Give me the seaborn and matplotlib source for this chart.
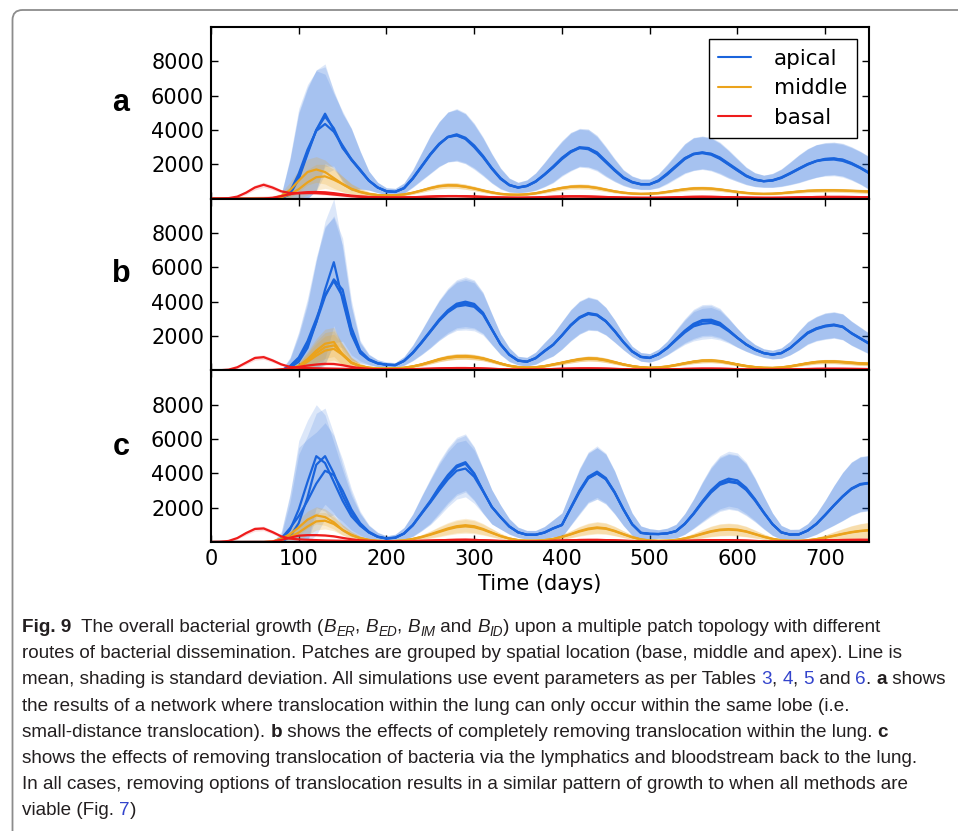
import numpy as np
import pandas as pd
import seaborn as sns
import matplotlib.pyplot as plt
from matplotlib.lines import Line2D
from matplotlib.patches import FancyBboxPatch
from matplotlib.text import Annotation

days = list(range(0, 751, 10))
regions = ["apical", "middle", "basal"]

# ---- panel a -------------------------------------------------------------
a_apical_1 = [
    0, 0, 0, 0, 0, 0, 0, 0, 20, 250,
    1150, 2600, 4000, 4950, 4000, 2950, 2300, 1700, 1050, 650,
    420, 390, 620, 1200, 1900, 2600, 3200, 3600, 3700, 3500,
    3050, 2450, 1750, 1150, 780, 640, 740, 1000, 1400, 1850,
    2350, 2750, 3000, 2950, 2650, 2150, 1650, 1200, 950, 830,
    830, 1050, 1450, 1900, 2350, 2620, 2700, 2600, 2350, 2000,
    1650, 1320, 1100, 1010, 1060, 1220, 1470, 1740, 2000, 2200,
    2320, 2350, 2250, 2050, 1800, 1500]
a_apical_2 = [
    0, 0, 0, 0, 0, 0, 0, 0, 30, 300,
    1250, 2700, 4000, 4780, 4100, 3000, 2250, 1650, 1050, 650,
    430, 400, 600, 1150, 1850, 2550, 3150, 3600, 3750, 3550,
    3100, 2500, 1800, 1200, 800, 650, 730, 980, 1380, 1820,
    2300, 2700, 2950, 2950, 2700, 2200, 1700, 1250, 980, 850,
    840, 1020, 1400, 1850, 2300, 2580, 2680, 2620, 2400, 2050,
    1700, 1350, 1120, 1020, 1050, 1200, 1450, 1720, 1980, 2180,
    2300, 2330, 2280, 2080, 1820, 1520]
a_apical_3 = [
    0, 0, 0, 0, 0, 0, 0, 0, 40, 400,
    1450, 2850, 3950, 4350, 3900, 3100, 2300, 1650, 1050, 650,
    440, 400, 620, 1180, 1880, 2580, 3180, 3580, 3680, 3480,
    3000, 2420, 1760, 1180, 800, 660, 750, 1010, 1420, 1880,
    2380, 2760, 2950, 2880, 2600, 2120, 1640, 1220, 960, 840,
    850, 1060, 1470, 1920, 2360, 2600, 2650, 2560, 2320, 1980,
    1640, 1310, 1100, 1020, 1080, 1240, 1490, 1760, 2020, 2200,
    2260, 2280, 2200, 2020, 1780, 1480]
a_apical_sd = [
    0, 0, 0, 0, 0, 0, 0, 0, 200, 2000,
    3800, 3800, 3500, 2900, 2200, 2000, 1800, 1100, 550, 300,
    200, 200, 300, 500, 800, 1100, 1300, 1450, 1500, 1450,
    1300, 1100, 850, 600, 400, 300, 350, 500, 700, 900,
    1000, 1100, 1100, 1100, 1000, 850, 650, 450, 350, 300,
    300, 400, 550, 700, 850, 950, 950, 950, 900, 800,
    650, 500, 400, 350, 400, 500, 650, 800, 900, 950,
    950, 950, 950, 950, 950, 950]
a_middle_1 = [
    0, 0, 0, 0, 0, 0, 0, 20, 150, 500,
    1050, 1550, 1700, 1550, 1200, 850, 550, 380, 270, 210,
    190, 200, 250, 350, 480, 620, 730, 780, 770, 700,
    600, 480, 370, 280, 240, 230, 260, 320, 420, 530,
    630, 700, 720, 700, 630, 530, 430, 350, 300, 280,
    290, 330, 400, 480, 550, 600, 610, 590, 540, 470,
    400, 340, 300, 280, 290, 320, 370, 420, 460, 480,
    490, 490, 480, 460, 440, 420]
a_middle_2 = [
    0, 0, 0, 0, 0, 0, 0, 0, 80, 250,
    550, 950, 1250, 1300, 1100, 850, 580, 400, 280, 210,
    190, 200, 240, 340, 470, 610, 720, 770, 760, 690,
    590, 470, 360, 280, 240, 230, 250, 310, 410, 520,
    620, 690, 710, 690, 620, 520, 420, 350, 300, 280,
    290, 320, 390, 470, 540, 590, 600, 580, 530, 460,
    390, 330, 290, 280, 290, 320, 360, 410, 450, 470,
    480, 480, 470, 450, 430, 410]
a_middle_sd = [
    0, 0, 0, 0, 0, 0, 0, 20, 200, 450,
    650, 750, 750, 700, 600, 450, 300, 200, 120, 80,
    60, 60, 70, 90, 110, 130, 150, 160, 160, 150,
    130, 110, 90, 70, 60, 60, 60, 70, 90, 110,
    120, 130, 140, 140, 130, 110, 90, 70, 60, 60,
    60, 70, 80, 100, 110, 120, 120, 120, 110, 100,
    80, 70, 60, 60, 60, 70, 80, 90, 100, 110,
    110, 110, 110, 110, 110, 110]
a_basal_1 = [
    0, 5, 30, 120, 350, 650, 810, 650, 430, 330,
    320, 330, 320, 290, 240, 190, 140, 110, 90, 80,
    70, 70, 75, 85, 100, 120, 140, 150, 150, 140,
    125, 105, 85, 70, 60, 55, 60, 70, 90, 110,
    125, 135, 135, 125, 110, 95, 80, 65, 55, 50,
    50, 55, 65, 80, 95, 105, 110, 105, 95, 85,
    75, 65, 55, 50, 50, 55, 65, 75, 85, 95,
    100, 100, 100, 95, 90, 85]
a_basal_2 = [
    0, 0, 0, 0, 0, 0, 10, 50, 150, 260,
    340, 380, 390, 370, 320, 250, 180, 130, 100, 80,
    70, 70, 75, 85, 100, 120, 140, 150, 150, 140,
    125, 105, 85, 70, 60, 55, 60, 70, 90, 110,
    125, 135, 135, 125, 110, 95, 80, 65, 55, 50,
    50, 55, 65, 80, 95, 105, 110, 105, 95, 85,
    75, 65, 55, 50, 50, 55, 65, 75, 85, 95,
    100, 100, 100, 95, 90, 85]
a_basal_sd = [
    0, 5, 20, 60, 110, 140, 150, 130, 100, 80,
    80, 80, 80, 80, 70, 60, 50, 40, 35, 30,
    30, 30, 30, 30, 35, 40, 45, 50, 50, 50,
    45, 40, 35, 30, 30, 30, 30, 30, 35, 40,
    45, 45, 45, 45, 40, 35, 30, 30, 30, 30,
    30, 30, 30, 35, 40, 40, 40, 40, 35, 35,
    30, 30, 30, 30, 30, 30, 30, 35, 35, 40,
    40, 40, 40, 40, 40, 40]

# ---- panel b -------------------------------------------------------------
b_apical_1 = [
    0, 0, 0, 0, 0, 0, 0, 0, 0, 150,
    500, 1300, 2800, 4700, 6300, 4100, 2100, 1000, 600, 400,
    320, 300, 560, 1040, 1650, 2300, 2960, 3500, 3880, 4000,
    3870, 3360, 2400, 1500, 900, 560, 500, 710, 1130, 1500,
    2050, 2650, 3100, 3340, 3250, 2880, 2300, 1650, 1100, 780,
    720, 940, 1320, 1820, 2310, 2710, 2930, 2950, 2770, 2350,
    1900, 1500, 1200, 1000, 910, 1000, 1300, 1750, 2200, 2450,
    2600, 2670, 2550, 2150, 1850, 1550]
b_apical_2 = [
    0, 0, 0, 0, 0, 0, 0, 0, 0, 200,
    650, 1500, 2800, 4300, 5300, 4700, 2500, 1150, 650, 420,
    330, 300, 540, 1000, 1600, 2250, 2900, 3420, 3800, 3900,
    3800, 3320, 2420, 1530, 920, 570, 500, 700, 1100, 1480,
    2020, 2600, 3050, 3300, 3220, 2860, 2300, 1660, 1110, 790,
    730, 930, 1300, 1780, 2260, 2640, 2850, 2870, 2700, 2330,
    1900, 1520, 1220, 1010, 920, 1010, 1300, 1720, 2150, 2400,
    2550, 2620, 2520, 2180, 1880, 1580]
b_apical_3 = [
    0, 0, 0, 0, 0, 0, 0, 0, 0, 250,
    750, 1700, 3000, 4400, 5200, 4300, 2200, 1050, 620, 410,
    330, 310, 550, 1020, 1620, 2250, 2880, 3380, 3720, 3800,
    3700, 3250, 2380, 1520, 920, 570, 510, 720, 1120, 1490,
    2040, 2620, 3060, 3280, 3200, 2850, 2280, 1640, 1100, 780,
    720, 930, 1290, 1750, 2200, 2560, 2710, 2760, 2620, 2280,
    1880, 1500, 1200, 1000, 920, 1000, 1290, 1740, 2180, 2430,
    2580, 2640, 2540, 2160, 1860, 1560]
b_apical_sd = [
    0, 0, 0, 0, 0, 0, 0, 0, 0, 500,
    1500, 2500, 3600, 4000, 3700, 3000, 1600, 600, 300, 200,
    150, 150, 250, 450, 700, 950, 1150, 1300, 1400, 1450,
    1400, 1200, 900, 600, 400, 250, 250, 350, 500, 650,
    800, 900, 950, 950, 900, 800, 650, 450, 300, 250,
    250, 300, 400, 550, 700, 850, 900, 900, 850, 700,
    550, 400, 300, 250, 250, 300, 400, 550, 650, 700,
    750, 750, 750, 700, 650, 600]
b_middle_1 = [
    0, 0, 0, 0, 0, 0, 0, 0, 30, 100,
    250, 650, 1150, 1550, 1650, 900, 450, 250, 150, 110,
    100, 110, 150, 230, 350, 500, 650, 760, 820, 830,
    790, 700, 560, 400, 270, 190, 160, 180, 250, 350,
    450, 560, 650, 700, 680, 600, 480, 350, 250, 180,
    150, 170, 230, 320, 420, 510, 570, 580, 540, 450,
    350, 260, 190, 150, 140, 170, 240, 330, 420, 490,
    520, 520, 490, 450, 410, 390]
b_middle_2 = [
    0, 0, 0, 0, 0, 0, 0, 0, 20, 80,
    220, 580, 1000, 1350, 1450, 950, 450, 250, 150, 110,
    100, 110, 150, 230, 340, 480, 630, 740, 800, 810,
    770, 690, 550, 400, 270, 190, 160, 180, 240, 340,
    440, 550, 640, 690, 670, 590, 470, 350, 250, 180,
    150, 170, 220, 310, 410, 500, 560, 570, 530, 440,
    340, 250, 190, 150, 140, 170, 230, 320, 410, 480,
    510, 510, 480, 440, 400, 380]
b_middle_3 = [
    0, 0, 0, 0, 0, 0, 0, 0, 20, 60,
    180, 500, 850, 1150, 1250, 900, 430, 240, 150, 110,
    100, 110, 140, 220, 330, 470, 620, 730, 790, 800,
    760, 680, 540, 390, 260, 180, 150, 170, 230, 330,
    430, 540, 630, 680, 660, 580, 460, 340, 240, 170,
    140, 160, 210, 300, 400, 490, 550, 560, 520, 430,
    330, 240, 180, 140, 130, 160, 220, 310, 400, 470,
    500, 500, 470, 430, 390, 370]
b_middle_sd = [
    0, 0, 0, 0, 0, 0, 0, 0, 20, 60,
    200, 450, 700, 850, 850, 600, 300, 150, 80, 50,
    40, 40, 50, 70, 90, 110, 130, 150, 160, 160,
    150, 130, 110, 90, 60, 50, 40, 50, 60, 80,
    100, 120, 130, 140, 140, 130, 110, 80, 60, 50,
    40, 40, 50, 70, 90, 110, 120, 120, 110, 100,
    80, 60, 50, 40, 40, 50, 60, 80, 100, 110,
    120, 120, 120, 110, 110, 110]
b_basal_1 = [
    0, 5, 40, 180, 450, 720, 770, 580, 350, 200,
    150, 130, 120, 110, 100, 90, 80, 70, 60, 55,
    50, 50, 55, 65, 80, 95, 110, 125, 135, 135,
    125, 110, 90, 70, 55, 45, 45, 50, 60, 75,
    90, 100, 110, 115, 110, 100, 85, 70, 55, 45,
    40, 45, 55, 65, 80, 90, 100, 100, 95, 85,
    70, 55, 45, 40, 40, 45, 55, 65, 75, 85,
    90, 90, 90, 85, 80, 75]
b_basal_2 = [
    0, 0, 0, 0, 0, 0, 5, 20, 60, 120,
    200, 280, 340, 380, 370, 300, 200, 130, 90, 70,
    55, 50, 55, 65, 80, 95, 110, 120, 130, 130,
    120, 105, 85, 65, 50, 45, 45, 50, 60, 75,
    90, 100, 110, 110, 105, 95, 80, 65, 50, 45,
    40, 45, 55, 65, 80, 90, 95, 95, 90, 80,
    65, 55, 45, 40, 40, 45, 55, 65, 75, 85,
    90, 90, 85, 80, 75, 70]
b_basal_sd = [
    0, 5, 20, 60, 110, 130, 130, 110, 80, 60,
    60, 60, 70, 70, 70, 60, 50, 40, 30, 30,
    30, 30, 30, 30, 35, 40, 45, 50, 50, 50,
    45, 40, 35, 30, 30, 30, 30, 30, 35, 40,
    40, 40, 45, 45, 40, 35, 30, 30, 30, 30,
    30, 30, 30, 35, 35, 40, 40, 40, 35, 35,
    30, 30, 30, 30, 30, 30, 30, 35, 35, 40,
    40, 40, 40, 40, 40, 40]

# ---- panel c -------------------------------------------------------------
c_apical_1 = [
    0, 0, 0, 0, 0, 0, 0, 0, 100, 700,
    1900, 3500, 5000, 4600, 3500, 2400, 1500, 950, 550, 300,
    200, 250, 500, 1000, 1700, 2400, 3200, 3900, 4450, 4650,
    4000, 3000, 2050, 1450, 900, 560, 420, 420, 550, 800,
    1000, 2000, 3000, 3800, 4100, 3730, 2920, 1910, 1030, 530,
    470, 460, 500, 630, 1060, 1670, 2370, 3010, 3480, 3690,
    3590, 3160, 2500, 1740, 1040, 560, 430, 440, 665, 1050,
    1580, 2140, 2670, 3120, 3380, 3450]
c_apical_2 = [
    0, 0, 0, 0, 0, 0, 0, 0, 0, 300,
    1100, 2600, 4500, 5000, 4000, 2700, 1700, 1000, 560, 300,
    200, 240, 480, 960, 1650, 2350, 3100, 3800, 4350, 4560,
    3950, 2980, 2050, 1450, 900, 560, 420, 420, 540, 780,
    980, 1950, 2900, 3700, 3990, 3650, 2870, 1900, 1030, 530,
    470, 460, 500, 620, 1040, 1620, 2280, 2880, 3330, 3500,
    3420, 3030, 2420, 1700, 1030, 560, 430, 440, 660, 1040,
    1560, 2120, 2640, 3080, 3340, 3420]
c_apical_3 = [
    0, 0, 0, 0, 0, 0, 0, 0, 200, 800,
    1500, 2400, 3400, 4150, 3900, 3000, 1900, 1100, 600, 320,
    210, 260, 500, 980, 1650, 2300, 3000, 3650, 4150, 4280,
    3800, 2950, 2050, 1450, 920, 570, 430, 430, 560, 800,
    1000, 1980, 2950, 3750, 4000, 3680, 2900, 1920, 1050, 540,
    480, 470, 510, 640, 1060, 1650, 2330, 2950, 3400, 3560,
    3460, 3080, 2450, 1720, 1040, 570, 440, 450, 670, 1060,
    1580, 2130, 2650, 3100, 3360, 3430]
c_apical_sd = [
    0, 0, 0, 0, 0, 0, 0, 0, 400, 2000,
    4000, 3600, 3000, 2800, 2300, 1800, 1200, 700, 400, 250,
    150, 200, 350, 650, 1000, 1300, 1500, 1600, 1650, 1650,
    1550, 1300, 1000, 700, 450, 300, 250, 250, 350, 500,
    700, 1000, 1300, 1450, 1500, 1450, 1250, 950, 650, 400,
    300, 250, 300, 400, 600, 850, 1150, 1400, 1550, 1600,
    1600, 1500, 1250, 950, 650, 400, 300, 300, 400, 600,
    850, 1150, 1400, 1550, 1600, 1600]
c_middle_1 = [
    0, 0, 0, 0, 0, 0, 0, 30, 200, 450,
    850, 1300, 1550, 1450, 1150, 700, 400, 220, 120, 70,
    50, 60, 100, 180, 300, 450, 620, 790, 920, 980,
    920, 760, 550, 350, 200, 110, 80, 80, 110, 180,
    300, 460, 640, 780, 850, 800, 650, 460, 280, 150,
    90, 70, 80, 120, 210, 340, 490, 630, 720, 750,
    720, 620, 470, 310, 180, 100, 70, 70, 100, 170,
    260, 370, 480, 580, 650, 700]
c_middle_2 = [
    0, 0, 0, 0, 0, 0, 0, 10, 100, 300,
    550, 900, 1200, 1240, 1050, 700, 420, 230, 120, 70,
    50, 60, 90, 170, 280, 420, 580, 740, 860, 910,
    860, 720, 530, 340, 200, 110, 80, 80, 110, 170,
    290, 440, 610, 740, 810, 770, 630, 450, 280, 150,
    90, 70, 80, 120, 200, 320, 460, 600, 690, 720,
    690, 600, 450, 300, 180, 100, 70, 70, 100, 160,
    250, 350, 460, 560, 630, 680]
c_middle_sd = [
    0, 0, 0, 0, 0, 0, 0, 30, 150, 300,
    450, 500, 500, 480, 400, 300, 200, 120, 70, 40,
    30, 30, 50, 80, 130, 200, 280, 340, 380, 400,
    380, 320, 240, 160, 100, 60, 40, 40, 60, 90,
    140, 200, 270, 320, 340, 320, 270, 200, 130, 80,
    50, 40, 50, 70, 110, 170, 240, 300, 340, 350,
    340, 300, 230, 160, 100, 60, 40, 40, 60, 100,
    160, 230, 300, 370, 420, 450]
c_basal_1 = [
    0, 10, 60, 230, 520, 760, 790, 580, 330, 200,
    150, 130, 110, 90, 80, 70, 60, 50, 45, 40,
    35, 35, 40, 50, 65, 80, 100, 115, 125, 130,
    120, 100, 80, 60, 45, 35, 35, 40, 50, 65,
    85, 100, 115, 120, 120, 110, 95, 75, 55, 45,
    35, 35, 40, 50, 65, 80, 95, 105, 110, 105,
    95, 80, 60, 45, 35, 35, 40, 50, 65, 80,
    95, 105, 115, 120, 125, 125]
c_basal_2 = [
    0, 0, 0, 0, 0, 0, 0, 30, 120, 250,
    370, 400, 400, 380, 330, 240, 160, 100, 70, 50,
    40, 40, 45, 55, 70, 85, 100, 115, 125, 130,
    120, 100, 80, 60, 45, 35, 35, 40, 50, 65,
    85, 100, 115, 120, 120, 110, 95, 75, 55, 45,
    35, 35, 40, 50, 65, 80, 95, 105, 110, 105,
    95, 80, 60, 45, 35, 35, 40, 50, 65, 80,
    95, 105, 115, 120, 125, 125]
c_basal_sd = [
    0, 5, 20, 60, 110, 130, 130, 110, 80, 60,
    60, 60, 60, 60, 50, 40, 30, 30, 30, 30,
    30, 30, 30, 30, 30, 35, 40, 45, 45, 45,
    45, 40, 35, 30, 30, 30, 30, 30, 30, 35,
    40, 40, 45, 45, 45, 40, 35, 30, 30, 30,
    30, 30, 30, 30, 35, 35, 40, 40, 40, 40,
    35, 35, 30, 30, 30, 30, 30, 30, 35, 35,
    40, 40, 40, 45, 45, 45]

caption_lines = [
    [("Fig. 9", "bold"), ("  The overall bacterial growth (", "plain"),
     ("B", "ital"), ("ER", "sub"), (", ", "plain"), ("B", "ital"), ("ED", "sub"),
     (", ", "plain"), ("B", "ital"), ("IM", "sub"), (" and ", "plain"),
     ("B", "ital"), ("ID", "sub"),
     (") upon a multiple patch topology with different", "plain")],
    [("routes of bacterial dissemination. Patches are grouped by spatial location "
      "(base, middle and apex). Line is", "plain")],
    [("mean, shading is standard deviation. All simulations use event parameters "
      "as per Tables ", "plain"), ("3", "link"), (", ", "plain"), ("4", "link"),
     (", ", "plain"), ("5", "link"), (" and ", "plain"), ("6", "link"),
     (". ", "plain"), ("a", "bold"), (" shows", "plain")],
    [("the results of a network where translocation within the lung can only occur "
      "within the same lobe (i.e.", "plain")],
    [("small-distance translocation). ", "plain"), ("b", "bold"),
     (" shows the effects of completely removing translocation within the lung. ", "plain"),
     ("c", "bold")],
    [("shows the effects of removing translocation of bacteria via the lymphatics "
      "and bloodstream back to the lung.", "plain")],
    [("In all cases, removing options of translocation results in a similar pattern "
      "of growth to when all methods are", "plain")],
    [("viable (Fig. ", "plain"), ("7", "link"), (")", "plain")],
]

panel_data = {
    "a": {"apical": ([a_apical_1, a_apical_2, a_apical_3], a_apical_sd),
          "middle": ([a_middle_1, a_middle_2], a_middle_sd),
          "basal": ([a_basal_1, a_basal_2], a_basal_sd)},
    "b": {"apical": ([b_apical_1, b_apical_2, b_apical_3], b_apical_sd),
          "middle": ([b_middle_1, b_middle_2, b_middle_3], b_middle_sd),
          "basal": ([b_basal_1, b_basal_2], b_basal_sd)},
    "c": {"apical": ([c_apical_1, c_apical_2, c_apical_3], c_apical_sd),
          "middle": ([c_middle_1, c_middle_2], c_middle_sd),
          "basal": ([c_basal_1, c_basal_2], c_basal_sd)},
}

colors = {"apical": "#1a64dc", "middle": "#eba31c", "basal": "#ee1c1c"}
band_alpha = {"apical": 0.15, "middle": 0.2, "basal": 0.15}


def long_table(panel):
    rows = []
    for region in regions:
        runs, _ = panel_data[panel][region]
        for i, run in enumerate(runs):
            for d, v in zip(days, run):
                rows.append((d, v, region, region + str(i)))
    return pd.DataFrame(rows, columns=["day", "count", "region", "run"])


sns.set_style("ticks")
plt.rcParams["font.family"] = ["DejaVu Sans"]
plt.rcParams["text.color"] = "black"
plt.rcParams["axes.labelcolor"] = "black"

W, H = 958, 831
fig, axes = plt.subplots(3, 1, figsize=(W / 100, H / 100), dpi=100, sharex=True)
fig.subplots_adjust(left=211 / W, right=869 / W, top=1 - 27 / H,
                    bottom=1 - 542 / H, hspace=0)

for ax, key in zip(axes, "abc"):
    for region in regions:
        runs, sd = panel_data[key][region]
        s = np.array(sd, dtype=float)
        for run in runs:
            m = np.array(run, dtype=float)
            ax.fill_between(days, np.clip(m - s, 0, None), m + s,
                            color=colors[region], alpha=band_alpha[region], lw=0)
    sns.lineplot(data=long_table(key), x="day", y="count", hue="region",
                 units="run", estimator=None, hue_order=regions, palette=colors,
                 linewidth=1.6, legend=False, ax=ax)
    ax.set_xlim(0, 750)
    ax.set_ylim(0, 10000)
    ax.set_xticks(range(0, 701, 100))
    ax.set_yticks([2000, 4000, 6000, 8000])
    ax.set_xlabel("")
    ax.set_ylabel("")
    ax.tick_params(direction="in", top=True, right=True, length=5, width=1,
                   labelsize=15, pad=5, colors="black")
    for sp in ax.spines.values():
        sp.set_linewidth(1.5)
        sp.set_color("black")
        sp.set_visible(True)

axes[2].set_xlabel("Time (days)", fontsize=15, labelpad=4, color="black")

handles = [Line2D([], [], color=colors[r], lw=1.5) for r in regions]
leg = axes[0].legend(handles, regions, loc="upper right", fontsize=15.5,
                     fancybox=False, framealpha=1, edgecolor="black",
                     handlelength=1.5, handletextpad=1.1, borderpad=0.45,
                     labelspacing=0.45, borderaxespad=0.55)
leg.get_frame().set_linewidth(1.0)
for t in leg.get_texts():
    t.set_color("black")

for letter, ybase in zip("abc", [111, 282, 455]):
    fig.text(121 / W, 1 - ybase / H, letter, ha="center", va="baseline",
             fontsize=22, fontweight="bold", color="black",
             family=["Liberation Sans", "DejaVu Sans"])

# frame round the figure box
frame = FancyBboxPatch((0.125, -1.0), 10.0, 9.21,
                       boxstyle="round,pad=0,rounding_size=0.1",
                       transform=fig.dpi_scale_trans, fill=False,
                       ec="#8c8c8c", lw=1.3)
fig.add_artist(frame)

# caption: size chosen so the widest line fits the box
cap_family = ["Liberation Sans Narrow", "Liberation Sans", "DejaVu Sans"]
renderer = fig.canvas.get_renderer()
widest = 0
for segs in caption_lines:
    probe = fig.text(0, 0, "".join(t for t, _ in segs), fontsize=12, family=cap_family)
    widest = max(widest, probe.get_window_extent(renderer).width)
    probe.remove()
cap_size = 12 * 926 / widest

text_color = "#231f20"
link_color = "#3344cc"
for i, segs in enumerate(caption_lines):
    ybase = 1 - (632 + 26.2 * i) / H
    prev = None
    for txt, style in segs:
        kw = dict(fontsize=cap_size, family=cap_family, color=text_color)
        dy = 0
        if style == "bold":
            kw["fontweight"] = "bold"
        elif style == "link":
            kw["color"] = link_color
        elif style == "ital":
            kw["style"] = "italic"
        elif style == "sub":
            kw["style"] = "italic"
            kw["fontsize"] = cap_size * 0.72
            dy = -cap_size * 0.22
        if prev is None:
            prev = fig.text(22 / W, ybase, txt, ha="left", va="baseline", **kw)
        else:
            ann = Annotation(txt, xy=(1, ybase), xycoords=(prev, "figure fraction"),
                             xytext=(0, dy), textcoords="offset points",
                             ha="left", va="baseline", **kw)
            fig.add_artist(ann)
            prev = ann

fig.savefig("out.png", dpi=100)
